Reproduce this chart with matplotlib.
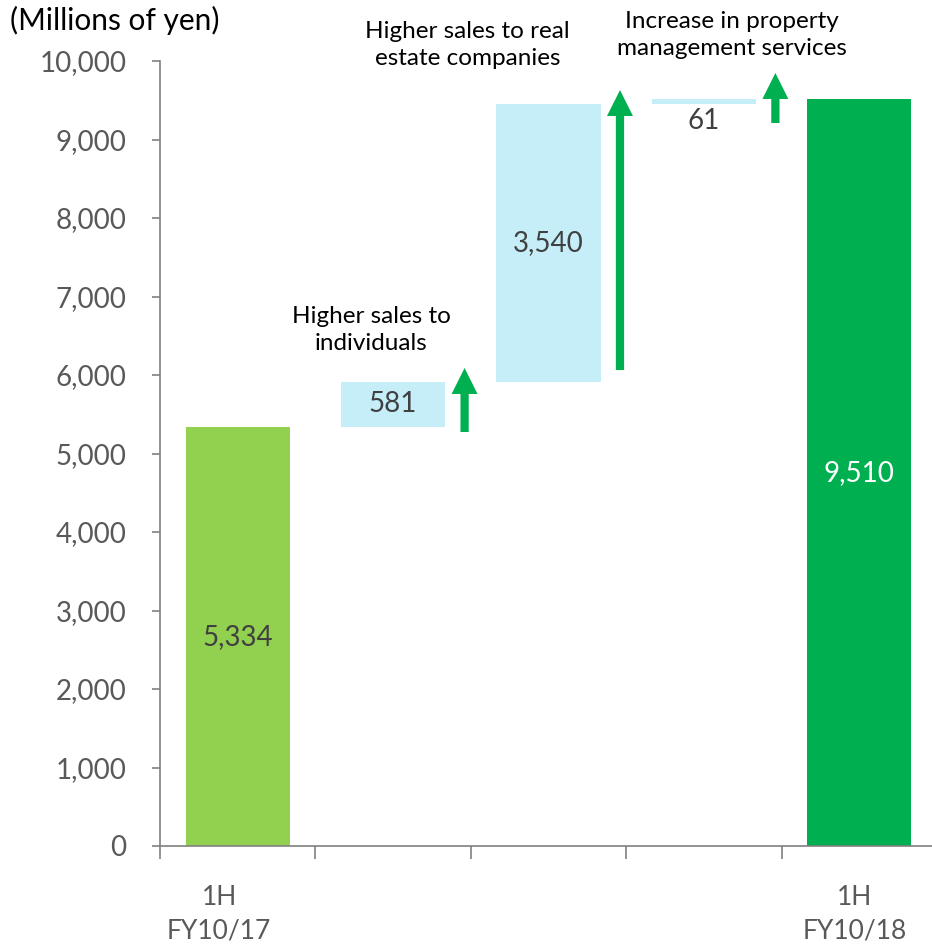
import matplotlib.pyplot as plt
import numpy as np

plt.rcParams['font.family'] = ['Lato', 'DejaVu Sans']

# Waterfall data (millions of yen)
start_value = 5334
increments = [581, 3540, 61]
end_value = 9510
increment_labels = ["Higher sales to\nindividuals",
                    "Higher sales to real\nestate companies",
                    "Increase in property\nmanagement services"]
x_labels = ["1H\nFY10/17", "1H\nFY10/18"]

light_green = "#92D050"
dark_green = "#00B050"
light_blue = "#C5EEF9"
text_gray = "#404040"
tick_gray = "#595959"

fig = plt.figure(figsize=(9.32, 9.44), dpi=100)
cat_w = 155.4
ax = fig.add_axes([160 / 932, 98 / 944, 5 * cat_w / 932, 785 / 944])

x = np.arange(5)
width = 0.67

# start and end bars
ax.bar(x[0], start_value, width, color=light_green)
ax.bar(x[4], end_value, width, color=dark_green)
ax.text(x[0], start_value / 2, f"{start_value:,}", ha="center", va="center",
        fontsize=20, color=text_gray)
ax.text(x[4], end_value / 2, f"{end_value:,}", ha="center", va="center",
        fontsize=20, color="white")

# floating increment bars with arrows
bottoms = start_value + np.concatenate([[0], np.cumsum(increments)[:-1]])
arrow_spans = [(5274, 6089), (6063, 9630), (9210, 9847)]
text_pos = [(0.86, 6573), (1.48, 10204), (3.18, 10331)]
for i, (inc, bot) in enumerate(zip(increments, bottoms)):
    xi = x[i + 1]
    ax.bar(xi, inc, width, bottom=bot, color=light_blue)
    if inc > 300:
        ax.text(xi, bot + inc / 2, f"{inc:,}", ha="center", va="center",
                fontsize=20, color=text_gray)
    else:
        ax.text(xi, bot - 60, f"{inc:,}", ha="center", va="top",
                fontsize=20, color=text_gray)
    y0, y1 = arrow_spans[i]
    ax.annotate("", xy=(xi + 0.46, y1), xytext=(xi + 0.46, y0),
                arrowprops=dict(arrowstyle="simple,head_length=0.85,head_width=0.85,tail_width=0.27",
                                color=dark_green, lw=0, mutation_scale=22,
                                shrinkA=0, shrinkB=0),
                annotation_clip=False)
    tx, ty = text_pos[i]
    ax.text(tx, ty, increment_labels[i], ha="center", va="center",
            fontsize=17.5, color="black", linespacing=1.3, clip_on=False)

ax.set_xlim(-0.5, 4.5)
ax.set_ylim(0, 10000)
ax.set_yticks(np.arange(0, 10001, 1000))
ax.set_yticklabels([f"{v:,}" for v in range(0, 10001, 1000)])
ax.set_xticks([x[0] - 0.12, x[4] - 0.03])
ax.set_xticklabels(x_labels, linespacing=1.45)
ax.set_xticks(np.arange(-0.5, 4.0, 1), minor=True)

ax.tick_params(axis="y", labelsize=20, labelcolor=tick_gray, color="#808080",
               length=6, width=1.2, pad=18)
ax.tick_params(axis="x", which="major", length=0, labelsize=19,
               labelcolor=tick_gray, pad=28)
ax.tick_params(axis="x", which="minor", length=9, width=1.2, color="#808080")

for side in ["top", "right"]:
    ax.spines[side].set_visible(False)
for side in ["left", "bottom"]:
    ax.spines[side].set_color("#808080")
    ax.spines[side].set_linewidth(1.2)

fig.text(10 / 932, 1 - 20 / 944, "(Millions of yen)", ha="left", va="center",
         fontsize=21.5, color="black")

plt.savefig("out.png", dpi=100)
